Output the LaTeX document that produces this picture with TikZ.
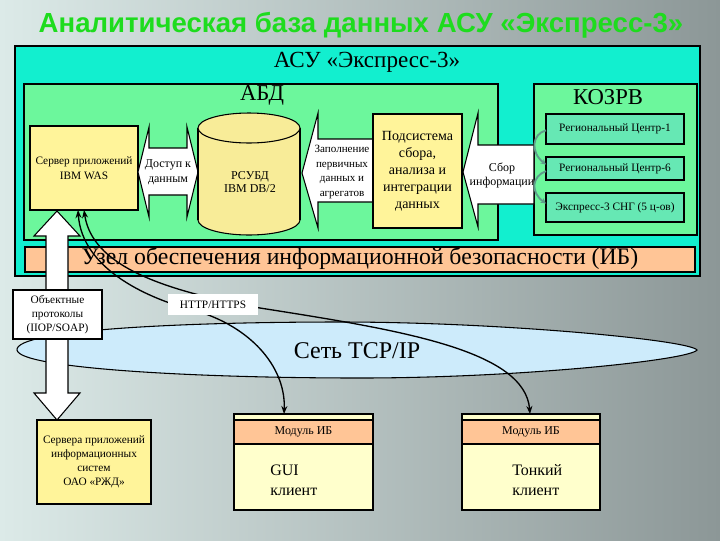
\documentclass[tikz,border=0pt]{standalone}
\usepackage{fontspec}
\setmainfont{Liberation Serif}
\newfontfamily\titlefont{Liberation Sans}
\usetikzlibrary{arrows.meta}
\definecolor{bgA}{HTML}{DCEAE8}
\definecolor{bgB}{HTML}{8C9797}
\definecolor{titlegreen}{HTML}{1EDC1E}
\definecolor{cyanbox}{HTML}{12EFCF}
\definecolor{greenbox}{HTML}{6CF79C}
\definecolor{regbox}{HTML}{66E8B4}
\definecolor{yelbox}{HTML}{FFF49A}
\definecolor{cylbox}{HTML}{F8EC98}
\definecolor{orbox}{HTML}{FFC596}
\definecolor{lightyel}{HTML}{FFFFCC}
\definecolor{netblue}{HTML}{CDEBFB}
\definecolor{kozarr}{HTML}{5E9C8C}
\tikzset{
  sz/.style 2 args={minimum width=#1*0.75pt, minimum height=#2*0.75pt},
  box/.style={draw=black, line width=0.8pt, inner sep=0pt, outer sep=0pt},
  small/.style={font=\fontsize{8.5}{11}\selectfont, align=center},
  blockarrow/.style={draw=black, line width=0.8pt, fill=white},
  link/.style={draw=black, line width=1pt, {Stealth[length=6pt,width=4.5pt]}-{Stealth[length=6pt,width=4.5pt]}},
  kozlink/.style={draw=kozarr, line width=1.4pt, -{Stealth[length=4pt,width=4pt]}},
}
\begin{document}
\begin{tikzpicture}[x=0.75pt, y=-0.75pt]
\useasboundingbox (0,0) rectangle (720,540);
% background
\shade[shading=axis, left color=bgA, right color=bgB, shading angle=90] (0,0) rectangle (720,540);
% title
\node[font=\titlefont\bfseries\fontsize{20.7}{24}\selectfont, text=titlegreen] (title) at (361,25) {Аналитическая база данных АСУ «Экспресс-3»};
% containers
\node[box, fill=cyanbox, sz={685}{230}] (asu) at (357.5,161) {};
\node[font=\fontsize{17.3}{20}\selectfont] (asulbl) at (367,62) {АСУ «Экспресс-3»};
\node[box, fill=greenbox, sz={474}{156}] (abd) at (261,162) {};
\node[font=\fontsize{17}{20}\selectfont] (abdlbl) at (262,95) {АБД};
\node[box, fill=greenbox, sz={163}{151}] (kozrv) at (615.5,159.5) {};
\node[font=\fontsize{17}{20}\selectfont] (kozlbl) at (608,97) {КОЗРВ};
% server
\node[box, fill=yelbox, sz={108}{84}, small] (srv) at (84,168) {Сервер приложений\\IBM WAS};
% access arrow
\draw[blockarrow] (138,172) -- (149,127) -- (149,148) -- (187,148) -- (187,127) -- (198,172) -- (187,217) -- (187,195) -- (149,195) -- (149,217) -- cycle;
\node[small, font=\fontsize{9}{11.25}\selectfont] (access) at (168,172) {Доступ к\\данным};
% cylinder
\filldraw[fill=cylbox, draw=black, line width=0.8pt] (249,220) ellipse [x radius=51, y radius=15];
\fill[cylbox] (198,128) rectangle (300,220);
\draw[black, line width=0.8pt] (198,128) -- (198,220) (300,128) -- (300,220);
\filldraw[fill=cylbox, draw=black, line width=0.8pt] (249,128) ellipse [x radius=51, y radius=15];
\node[small, font=\fontsize{9}{10}\selectfont] (db) at (250,182) {РСУБД\\IBM DB/2};
% fill arrow
\draw[blockarrow] (302,173) -- (318,113) -- (318,139) -- (374,139) -- (374,202) -- (318,202) -- (318,228) -- cycle;
\node[small, font=\fontsize{8.3}{10.9}\selectfont] (fillin) at (342,172) {Заполнение\\первичных\\данных и\\агрегатов};
% subsystem
\node[box, fill=yelbox, sz={89}{114}, font=\fontsize{10.5}{12.75}\selectfont, align=center] (podsys) at (417.5,171) {Подсистема\\сбора,\\анализа и\\интеграции\\данных};
% collect arrow
\draw[blockarrow] (463,172) -- (478,113) -- (478,145) -- (534,145) -- (534,204) -- (478,204) -- (478,227) -- cycle;
\node[small, font=\fontsize{9}{10.5}\selectfont] (collect) at (502,175) {Сбор\\информации};
% regional centres
\node[box, fill=regbox, sz={138}{30}, small] (rc1) at (615,129) {Региональный Центр-1};
\node[box, fill=regbox, sz={138}{23}, small] (rc6) at (615,168.5) {Региональный Центр-6};
\node[box, fill=regbox, sz={138}{29}, small] (sng) at (615,207.5) {Экспресс-3 СНГ (5 ц-ов)};
\draw[kozlink] ([yshift=-1pt]rc1.west) .. controls (532,134) and (530,152) .. ([yshift=3pt]rc6.west);
\draw[kozlink] ([yshift=-2pt]rc6.west) .. controls (532,176) and (530,192) .. ([yshift=3pt]sng.west);
% security strip
\node[box, fill=orbox, sz={670}{25}] (strip) at (360,259.5) {};
\node[font=\fontsize{17.8}{20}\selectfont] (striplbl) at (360,259) {Узел обеспечения информационной безопасности (ИБ)};
% network ellipse
\filldraw[fill=netblue, draw=black, line width=0.8pt] (17,350) .. controls (15,330) and (180,322) .. (340,322) .. controls (500,322) and (690,340) .. (697,350) .. controls (690,360) and (520,378) .. (360,378) .. controls (190,378) and (19,368) .. (17,350) -- cycle;
\node[font=\fontsize{18}{20}\selectfont] (net) at (357,351) {Сеть TCP/IP};
% vertical object-protocol arrow
\draw[blockarrow] (57,211) -- (80,236) -- (68,236) -- (68,393) -- (80,393) -- (57,420) -- (34,393) -- (46,393) -- (46,236) -- (34,236) -- cycle;
% bottom boxes
\node[box, fill=yelbox, sz={114}{84}, small, font=\fontsize{8.5}{10.5}\selectfont] (rzd) at (94,462) {Сервера приложений\\информационных\\систем\\ОАО «РЖД»};
\node[box, fill=lightyel, sz={139}{96}] (gui) at (303.5,462) {};
\fill[orbox] (234,420) rectangle (373,444);
\draw[line width=0.8pt] (234,420) -- (373,420) (234,444) -- (373,444);
\node[box, fill=none, sz={139}{96}] (guiframe) at (303.5,462) {};
\node[font=\fontsize{9}{11}\selectfont] (guimod) at (303.5,432) {Модуль ИБ};
\node[anchor=west, align=left, font=\fontsize{12}{15}\selectfont, inner sep=0pt] (guitxt) at (270,480) {GUI\\клиент};
\node[box, fill=lightyel, sz={138}{96}] (thin) at (531,462) {};
\fill[orbox] (462,420) rectangle (600,444);
\draw[line width=0.8pt] (462,420) -- (600,420) (462,444) -- (600,444);
\node[box, fill=none, sz={138}{96}] (thinframe) at (531,462) {};
\node[font=\fontsize{9}{11}\selectfont] (thinmod) at (531,432) {Модуль ИБ};
\node[anchor=west, align=left, font=\fontsize{12}{15}\selectfont, inner sep=0pt] (thintxt) at (512,480) {Тонкий\\клиент};
% links
\coordinate (s1) at (78,210);
\coordinate (s2) at (84,210);
\coordinate (g1) at (284,414);
\coordinate (t1) at (530,414);
\draw[link] (s1) .. controls (82,270) and (150,300) .. (200,312) .. controls (255,330) and (286,370) .. (g1);
\draw[link] (s2) .. controls (92,265) and (160,290) .. (260,308) .. controls (400,330) and (525,350) .. (t1);
% labels on top
\node[box, fill=white, sz={89}{49}, small, font=\fontsize{8.5}{10.5}\selectfont] (proto) at (57.5,314.5) {Объектные\\протоколы\\(IIOP/SOAP)};
\node[box, draw=none, fill=white, sz={90}{21}, small] (http) at (213,304.5) {HTTP/HTTPS};
\end{tikzpicture}
\end{document}
